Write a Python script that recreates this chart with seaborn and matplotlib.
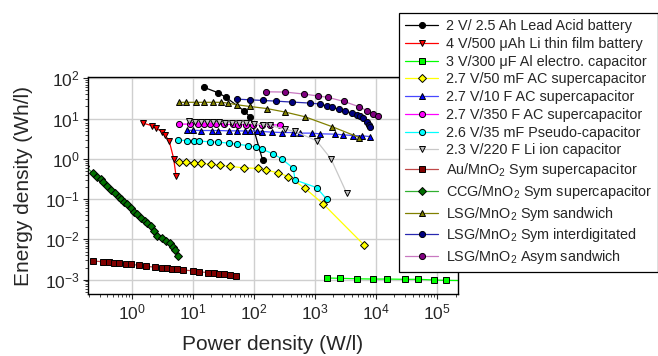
import numpy as np
import pandas as pd
import matplotlib
matplotlib.use("Agg")
import matplotlib.pyplot as plt
import matplotlib.ticker as mticker
import seaborn as sns

sns.set_style("ticks")
plt.rcParams['font.family'] = ['Liberation Sans', 'DejaVu Sans']
plt.rcParams['mathtext.fontset'] = 'custom'
plt.rcParams['mathtext.rm'] = 'Liberation Sans'
plt.rcParams['mathtext.it'] = 'Liberation Sans'
plt.rcParams['mathtext.bf'] = 'Liberation Sans'

# --- data (power W/l, energy Wh/l) ---
lead_x = [15.4, 26.1, 34.9, 69.6, 87.3, 139]
lead_y = [59.4, 43.8, 33.9, 15.4, 10.9, 0.93]

lithin_x = [1.51, 2.12, 2.50, 3.10, 3.51, 4.12, 4.87, 5.31]
lithin_y = [7.73, 6.73, 5.8, 4.78, 3.95, 2.76, 1.02, 0.385]

alcap_x = [1553, 2565, 4920, 9000, 14900, 30000, 49100, 89700, 139000, 250000]
alcap_y = [1.10e-3, 1.08e-3, 1.05e-3, 1.035e-3, 1.035e-3, 1.02e-3, 1.02e-3, 0.98e-3, 0.96e-3, 0.95e-3]

ac50_x = [5.94, 7.89, 10.5, 13.4, 20.2, 27.4, 41.4, 70.1, 118, 155, 251, 368, 686, 1352, 6270]
ac50_y = [0.84, 0.82, 0.795, 0.773, 0.73, 0.689, 0.65, 0.597, 0.58, 0.532, 0.448, 0.363, 0.185, 0.077, 0.0074]

ac10_x = [7.94, 10.2, 13.5, 20.4, 26.1, 39.1, 52.3, 71.5, 86.3, 111, 137, 196, 285, 441,
          569, 884, 1208, 2127, 2906, 4236, 5810, 7945]
ac10_y = [5.12, 5.12, 5.06, 5.06, 5.06, 4.97, 4.97, 4.92, 4.92, 4.89, 4.78, 4.61, 4.51, 4.51,
          4.36, 4.36, 4.19, 4.11, 3.95, 3.80, 3.73, 3.59]

ac350_x = [5.94, 9.0, 12.0, 15.4, 19.1, 24.0, 32.4, 46.0, 55.6, 74.3, 97.8, 134, 184, 267]
ac350_y = [7.3, 7.3, 7.3, 7.25, 7.25, 7.2, 7.2, 7.15, 7.1, 7.1, 7.05, 7.0, 7.0, 6.95]

pseudo_x = [5.72, 7.94, 10.6, 12.8, 19.1, 26.1, 38.7, 52.3, 79.2, 108, 136, 208, 285, 441, 471, 1067, 1553]
pseudo_y = [2.92, 2.85, 2.80, 2.76, 2.65, 2.60, 2.46, 2.32, 2.14, 1.95, 1.74, 1.33, 1.0, 0.587, 0.30, 0.193, 0.0995]

liion_x = [8.67, 10.9, 13.6, 17.1, 21.4, 26.8, 33.6, 43.8, 57.0, 75.6, 100, 143, 184, 323, 471, 1067, 1828, 3300]
liion_y = [8.8, 8.47, 8.33, 8.33, 8.33, 8.19, 8.0, 8.0, 7.86, 7.73, 7.43, 7.01, 6.81, 5.42, 4.83, 2.80, 1.0, 0.140]

au_x = [0.235, 0.335, 0.425, 0.519, 0.627, 0.798, 0.964, 1.33, 1.69, 2.41, 3.10, 3.74,
        4.52, 5.57, 7.0, 9.96, 12.6, 17.9, 22.5, 27.2, 32.4, 40.6, 50.4]
au_y = [2.90e-3, 2.79e-3, 2.69e-3, 2.63e-3, 2.59e-3, 2.49e-3, 2.40e-3, 2.27e-3, 2.18e-3, 2.02e-3,
        1.95e-3, 1.91e-3, 1.83e-3, 1.80e-3, 1.73e-3, 1.66e-3, 1.57e-3, 1.49e-3, 1.46e-3, 1.40e-3,
        1.38e-3, 1.28e-3, 1.25e-3]

ccg_x = [0.17, 0.233, 0.274, 0.311, 0.339, 0.399, 0.463, 0.540, 0.612, 0.676, 0.748, 0.847, 0.964,
         1.09, 1.24, 1.44, 1.63, 1.80, 2.05, 2.32, 2.62, 3.13, 3.68, 4.19, 4.74, 5.18, 5.73]
ccg_y = [0.68, 0.441, 0.363, 0.313, 0.263, 0.213, 0.169, 0.140, 0.115, 0.0995, 0.0867, 0.0746, 0.0594,
         0.0489, 0.0422, 0.0335, 0.0292, 0.0261, 0.0215, 0.0162, 0.0122, 0.0110, 0.0091, 0.0080,
         0.0066, 0.0054, 0.0039]

lsg_sand_x = [5.94, 7.74, 11.3, 15.3, 21.4, 29.0, 37.3, 53.5, 86.3, 162, 327, 686, 1898, 5310]
lsg_sand_y = [25.4, 25.4, 25.4, 25.4, 25.4, 25.4, 24.3, 22.0, 20.0, 17.8, 14.5, 11.1, 6.32, 3.39]

lsg_inter_x = [52.3, 86.3, 143, 227, 425, 828, 1208, 1553, 1876, 2470, 3100, 3990, 4810, 5450,
               6180, 7020, 7740, 7945]
lsg_inter_y = [30.5, 29.3, 28.2, 27.2, 25.7, 24.3, 23.0, 20.8, 18.9, 17.2, 15.6, 13.7, 12.4, 11.3,
               10.3, 8.47, 7.01, 6.15]

lsg_asym_x = [155, 329, 668, 1119, 1603, 3007, 5250, 7100, 9000, 10740]
lsg_asym_y = [46.4, 45.6, 40.6, 36.5, 33.9, 26.6, 19.7, 15.8, 13.3, 11.3]

x_ticks = [1e0, 1e1, 1e2, 1e3, 1e4, 1e5]
y_ticks = [1e-3, 1e-2, 1e-1, 1e0, 1e1, 1e2]

labels = [
    "2 V/ 2.5 Ah Lead Acid battery",
    "4 V/500 \u03bcAh Li thin film battery",
    "3 V/300 \u03bcF Al electro. capacitor",
    "2.7 V/50 mF AC supercapacitor",
    "2.7 V/10 F AC supercapacitor",
    "2.7 V/350 F AC supercapacitor",
    "2.6 V/35 mF Pseudo-capacitor",
    "2.3 V/220 F Li ion capacitor",
    "Au/MnO$_2$ Sym supercapacitor",
    "CCG/MnO$_2$ Sym supercapacitor",
    "LSG/MnO$_2$ Sym sandwich",
    "LSG/MnO$_2$ Sym interdigitated",
    "LSG/MnO$_2$ Asym sandwich",
]
series = [(lead_x, lead_y), (lithin_x, lithin_y), (alcap_x, alcap_y), (ac50_x, ac50_y),
          (ac10_x, ac10_y), (ac350_x, ac350_y), (pseudo_x, pseudo_y), (liion_x, liion_y),
          (au_x, au_y), (ccg_x, ccg_y), (lsg_sand_x, lsg_sand_y), (lsg_inter_x, lsg_inter_y),
          (lsg_asym_x, lsg_asym_y)]

# style: (marker, marker face, line colour, marker size)
styles = [
    ("o", "black", "black", 4.4),
    ("v", "#ff0000", "#ff0000", 4.8),
    ("s", "#00ff00", "#00ff00", 4.2),
    ("D", "#ffff00", "#ffff00", 4.0),
    ("^", "#0000ff", "#4848ff", 4.8),
    ("o", "#ff00ff", "#ff00ff", 4.4),
    ("o", "#00ffff", "#00ffff", 4.4),
    ("v", "#c0c0c0", "#c8c8c8", 4.8),
    ("s", "#800000", "#c04848", 4.2),
    ("D", "#007000", "#30b030", 4.0),
    ("^", "#808000", "#808000", 4.8),
    ("o", "#000080", "#2828b0", 4.4),
    ("o", "#800080", "#c878c0", 4.4),
]

df = pd.concat([pd.DataFrame({"power": x, "energy": y, "device": lab})
                for (x, y), lab in zip(series, labels)], ignore_index=True)

fig = plt.figure(figsize=(6.58, 3.56), dpi=100)
ax = fig.add_axes([88 / 658, 1 - 294 / 356, 370 / 658, 217 / 356])

for lab, (mk, fc, lc, ms) in zip(labels, styles):
    sub = df[df["device"] == lab]
    sns.lineplot(data=sub, x="power", y="energy", ax=ax, sort=False, estimator=None,
                 color=lc, lw=0.9, marker=mk, markersize=ms, markerfacecolor=fc,
                 markeredgecolor="black", markeredgewidth=0.7, label=lab)

ax.set_xscale("log")
ax.set_yscale("log")
ax.xaxis.set_major_locator(mticker.FixedLocator(x_ticks))
ax.yaxis.set_major_locator(mticker.FixedLocator(y_ticks))
ax.xaxis.set_major_formatter(mticker.LogFormatterSciNotation())
ax.yaxis.set_major_formatter(mticker.LogFormatterSciNotation())
ax.set_xlim(0.193, 2.19e5)
ax.set_ylim(4.4e-4, 108)
ax.grid(True, which="major", color="#cfcfcf", lw=1.0)
ax.set_axisbelow(True)
for s in ax.spines.values():
    s.set_color("black")
    s.set_linewidth(1.0)
ax.tick_params(which="major", direction="out", length=3.5, width=0.8, labelsize=12.5, pad=2.5)
ax.tick_params(which="minor", direction="out", length=2, width=0.6)
ax.set_xlabel("Power density (W/l)", fontsize=15, va="top")
ax.set_ylabel("Energy density (Wh/l)", fontsize=15)
ax.xaxis.set_label_coords(0.5, (294 - 335) / 217)
ax.yaxis.set_label_coords((33 - 88) / 370, 0.5)

handles, labs = ax.get_legend_handles_labels()
leg = ax.legend(handles, labs, loc="upper left", bbox_to_anchor=(399 / 658, 1 - 13 / 356),
                bbox_transform=fig.transFigure, borderaxespad=0, fontsize=10.4,
                frameon=True, fancybox=False, framealpha=1, edgecolor="black",
                handlelength=2.3, handletextpad=0.55, labelspacing=0.26, borderpad=0.42)
leg.get_frame().set_linewidth(0.9)
leg.set_zorder(10)

fig.savefig("out.png", dpi=100)
